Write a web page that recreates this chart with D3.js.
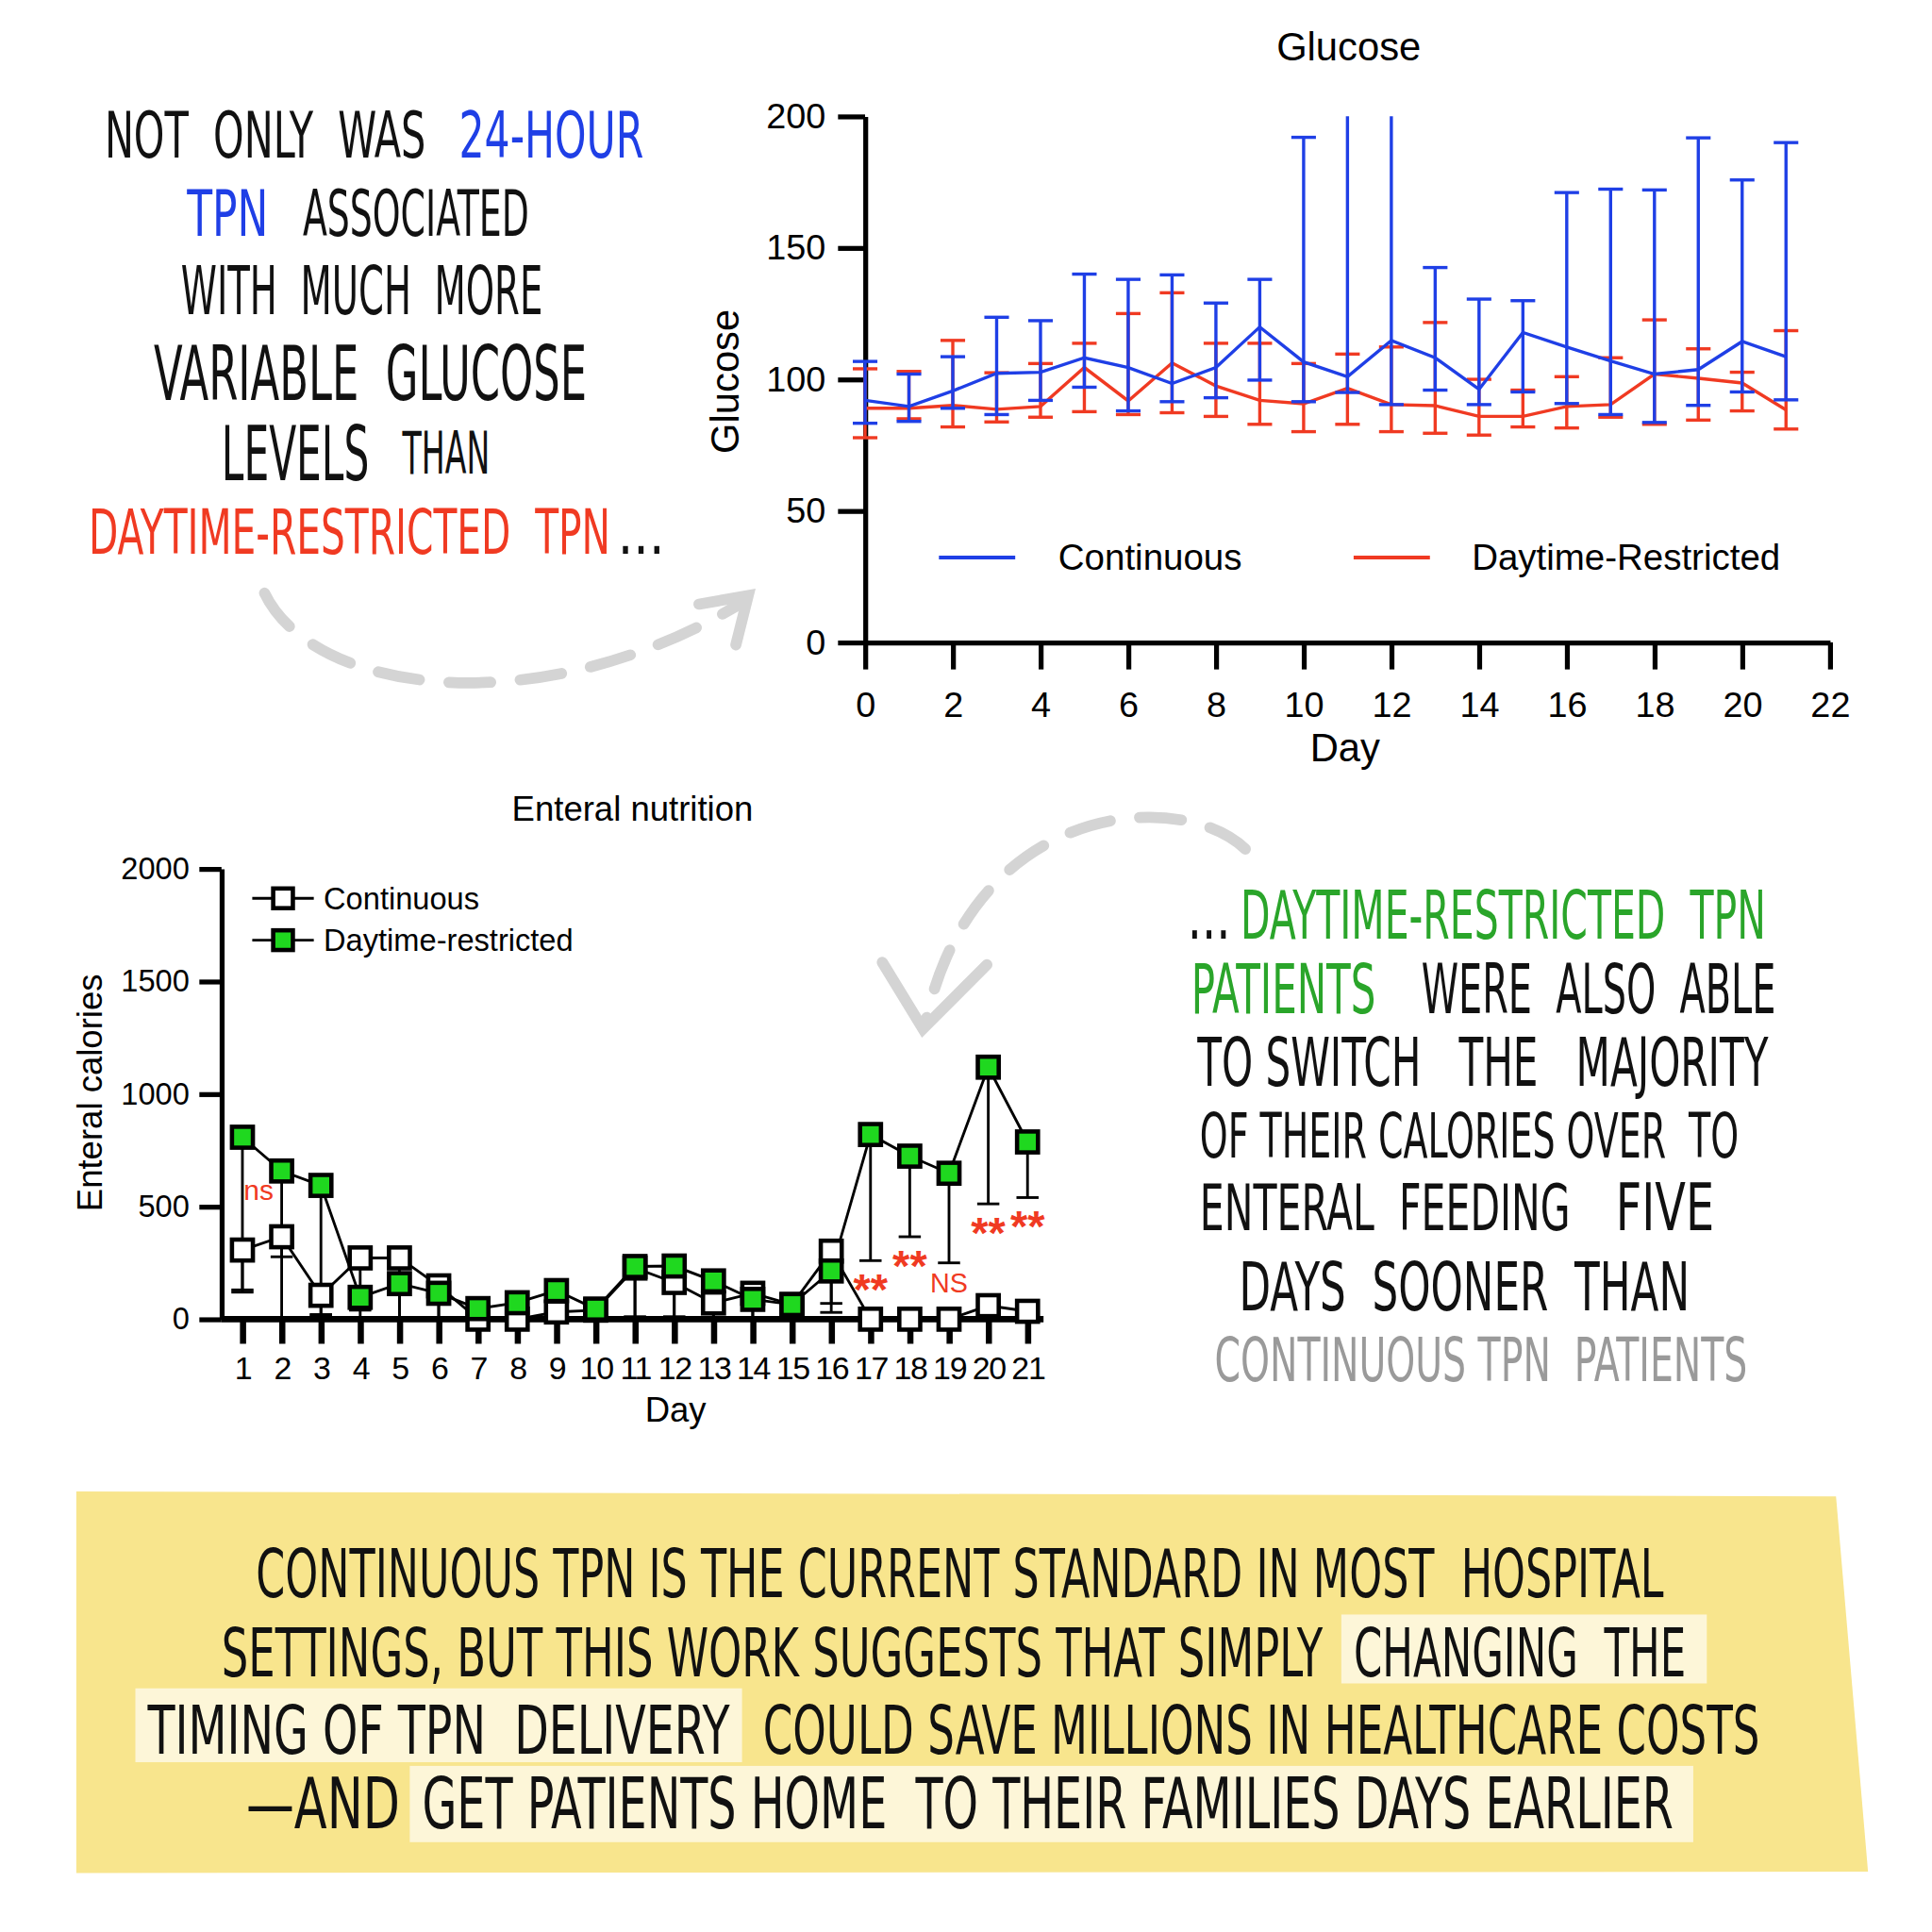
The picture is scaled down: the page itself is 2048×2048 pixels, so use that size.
<!DOCTYPE html>
<html>
<head>
<meta charset="utf-8">
<script src="https://cdn.jsdelivr.net/npm/d3@7"></script>
<style>
  body { margin: 0; background: #fff; }
  svg { display: block; }
</style>
</head>
<body>
<svg id="canvas" width="2048" height="2048" viewBox="0 0 1570 1570"></svg>
<script>
// ---- glucose data (days 0..21) ----
let gluDays = d3.range(0, 22);
let gluCont = [92, 89.7, 95.6, 102.3, 102.7, 108.2, 104.5, 98.4, 104.5, 119.9, 106.6, 101, 114.8, 108.2, 96.2, 117.8, 112.3, 107, 102, 103.7, 114.4, 108.6];
let gluContHi = [106.8, 102, 108.6, 123.6, 122.3, 140, 138, 139.7, 129, 138, 192, 230, 230, 142.5, 130.5, 129.9, 171, 172.3, 172, 191.8, 175.8, 190];
let gluContLo = [83.3, 84, 89, 86.6, 92, 97, 88, 91.5, 93, 99.7, 91.5, 95, 90.4, 95.9, 90.4, 95.2, 90.8, 86.6, 83.6, 90.1, 95.2, 92.2];
let gluDay = [89, 89, 90.1, 88.6, 89.7, 104.5, 91.8, 106.2, 97.5, 92, 90.7, 96.6, 90.4, 90, 85.9, 85.9, 89.7, 90.4, 102, 100.4, 98.6, 88.4];
let gluDayHi = [104, 103, 114.8, 102.5, 106, 113.7, 125, 132.9, 113.7, 113.7, 106, 109.6, 112.3, 121.6, 100, 95.9, 101, 108.2, 122.6, 111.6, 102.7, 118.5];
let gluDayLo = [77.8, 85, 81.9, 83.8, 85.6, 87.7, 86.6, 87.3, 85.9, 82.9, 80.1, 82.9, 80.1, 79.5, 78.8, 81.9, 81.5, 85.6, 82.9, 84.5, 88, 81.1];
let gluYTicks = [0, 50, 100, 150, 200];
let gluXTicks = d3.range(0, 23, 2);

// ---- enteral nutrition data (days 1..21) ----
let entDays = d3.range(1, 22);
let entCont = [307, 366, 106, 272, 272, 148, 0, 0, 32, 40, 227, 163, 72, 115, 65, 302, 0, 0, 0, 60, 35];
let entContLow = [130, 277, 20, 5, 0, 0, 0, 0, 0, 0, 10, 10, 0, 0, 0, 30, 0, 0, 0, 0, 0];
let entDayR = [808, 658, 594, 97, 158, 115, 47, 73, 127, 45, 234, 236, 170, 88, 65, 214, 820, 724, 648, 1119, 787];
let entDayLow = [120, 0, 20, 40, 0, 0, 0, 0, 0, 0, 10, 10, 0, 0, 0, 70, 260, 366, 250, 512, 540];
let entYTicks = [0, 500, 1000, 1500, 2000];
let sigDays = [17, 18, 19, 20, 21];
let sigLabels = ["**", "**", "NS", "**", "**"];

let blue = "#1f3fe6";
let red = "#f03a22";
let green = "#1fd81f";
let axisFont = "'Liberation Sans', Arial, Helvetica, sans-serif";
let handFont = "'Liberation Sans Narrow', 'DejaVu Sans Condensed', 'DejaVu Sans', sans-serif";

let svg = d3.select("#canvas");

// ---------- background shapes ----------
svg.append("polygon")
  .attr("points", "62,1212 1492,1216 1518,1521 62,1522")
  .attr("fill", "#f8e58d");

let highlights = [[1090, 1312, 297, 56], [110, 1372, 493, 60], [333, 1435, 1043, 62]];
svg.selectAll(".hl").data(highlights).enter().append("rect")
  .attr("x", (d) => d[0]).attr("y", (d) => d[1])
  .attr("width", (d) => d[2]).attr("height", (d) => d[3])
  .attr("fill", "#fdf6d8");

// dashed arrows
let arrows = svg.append("g")
  .attr("fill", "none").attr("stroke", "#d4d4d4")
  .attr("stroke-width", 9).attr("stroke-linecap", "round");
arrows.append("path").attr("d", "M215,482 C255,565 440,590 606,488").attr("stroke-dasharray", "34,24");
arrows.append("path").attr("d", "M568,491 L608,484 L598,524");
arrows.append("path").attr("d", "M1012,690 C960,640 790,650 752,832").attr("stroke-dasharray", "34,24");
arrows.append("path").attr("d", "M717,782 L750,836 L802,784");

// ---------- glucose chart ----------
let gx = d3.scaleLinear().domain([0, 22]).range([703, 1487]);
let gy = d3.scaleLinear().domain([0, 200]).range([522, 94.5]).clamp(true);

let gAxisY = svg.append("g")
  .attr("transform", "translate(703,0)")
  .call(d3.axisLeft(gy).tickValues(gluYTicks).tickSize(22).tickSizeOuter(0).tickPadding(10));
let gAxisX = svg.append("g")
  .attr("transform", "translate(0,522)")
  .call(d3.axisBottom(gx).tickValues(gluXTicks).tickSize(22).tickSizeOuter(0).tickPadding(18));
[gAxisY, gAxisX].forEach((a) => {
  a.selectAll("path, line").attr("stroke", "#000").attr("stroke-width", 4);
  a.selectAll("text").attr("font-family", axisFont).attr("font-size", 29).attr("fill", "#000");
});

let drawGluSeries = (vals, hi, lo, color) => {
  let g = svg.append("g").attr("stroke", color).attr("stroke-width", 2.6).attr("fill", "none");
  gluDays.forEach((d, i) => {
    g.append("line").attr("x1", gx(d)).attr("x2", gx(d)).attr("y1", gy(lo[i])).attr("y2", gy(hi[i]));
    if (hi[i] <= 200) {
      g.append("line").attr("x1", gx(d) - 10).attr("x2", gx(d) + 10).attr("y1", gy(hi[i])).attr("y2", gy(hi[i]));
    }
    g.append("line").attr("x1", gx(d) - 10).attr("x2", gx(d) + 10).attr("y1", gy(lo[i])).attr("y2", gy(lo[i]));
  });
  g.append("path")
    .attr("d", d3.line().x((d, i) => gx(gluDays[i])).y((d) => gy(d))(vals));
};
drawGluSeries(gluDay, gluDayHi, gluDayLo, red);
drawGluSeries(gluCont, gluContHi, gluContLo, blue);

svg.append("text").attr("x", 1096).attr("y", 49).attr("text-anchor", "middle")
  .attr("font-family", axisFont).attr("font-size", 32).text("Glucose");
svg.append("text").attr("x", 1093).attr("y", 619).attr("text-anchor", "middle")
  .attr("font-family", axisFont).attr("font-size", 32).text("Day");
svg.append("text").attr("transform", "translate(600,310) rotate(-90)").attr("text-anchor", "middle")
  .attr("font-family", axisFont).attr("font-size", 32).text("Glucose");

let gLegend = [["Continuous", blue, 763, 860], ["Daytime-Restricted", red, 1100, 1196]];
gLegend.forEach((l) => {
  svg.append("line").attr("x1", l[2]).attr("x2", l[2] + 62).attr("y1", 453).attr("y2", 453)
    .attr("stroke", l[1]).attr("stroke-width", 3);
  svg.append("text").attr("x", l[3]).attr("y", 463).attr("font-family", axisFont)
    .attr("font-size", 29.5).text(l[0]);
});

// ---------- enteral nutrition chart ----------
let ex = d3.scaleLinear().domain([1, 21]).range([197, 835]);
let ey = d3.scaleLinear().domain([0, 2000]).range([1072, 706]);

let eAxisY = svg.append("g")
  .attr("transform", "translate(180,0)")
  .call(d3.axisLeft(ey).tickValues(entYTicks).tickFormat(d3.format("d"))
    .tickSize(18).tickSizeOuter(0).tickPadding(8));
let eAxisX = svg.append("g")
  .attr("transform", "translate(0,1072)")
  .call(d3.axisBottom(ex).tickValues(entDays).tickSize(20).tickSizeOuter(0).tickPadding(10));
eAxisX.select(".domain").remove();
eAxisX.append("line").attr("x1", 180).attr("x2", 848).attr("y1", 0).attr("y2", 0);
eAxisY.selectAll("path, line").attr("stroke", "#000").attr("stroke-width", 4);
eAxisX.selectAll("line").attr("stroke", "#000").attr("stroke-width", 5);
[eAxisY, eAxisX].forEach((a) => {
  a.selectAll("text").attr("font-family", axisFont).attr("font-size", 25).attr("fill", "#000");
});
eAxisX.selectAll(".tick text").attr("font-size", 26).attr("letter-spacing", -1);

let drawEntErr = (vals, low) => {
  let g = svg.append("g").attr("stroke", "#000").attr("stroke-width", 2.2);
  entDays.forEach((d, i) => {
    if (vals[i] - low[i] < 1) return;
    g.append("line").attr("x1", ex(d)).attr("x2", ex(d)).attr("y1", ey(vals[i])).attr("y2", ey(low[i]));
    g.append("line").attr("x1", ex(d) - 9).attr("x2", ex(d) + 9).attr("y1", ey(low[i])).attr("y2", ey(low[i]));
  });
};
drawEntErr(entDayR, entDayLow);
drawEntErr(entCont, entContLow);

let entLine = d3.line().x((d, i) => ex(entDays[i])).y((d) => ey(d));
svg.append("path").attr("d", entLine(entCont)).attr("fill", "none").attr("stroke", "#000").attr("stroke-width", 2.2);
svg.append("path").attr("d", entLine(entDayR)).attr("fill", "none").attr("stroke", "#000").attr("stroke-width", 2.2);

let drawSquares = (vals, fill) => {
  svg.append("g").selectAll("rect").data(vals).enter().append("rect")
    .attr("x", (d, i) => ex(entDays[i]) - 8.5).attr("y", (d) => ey(d) - 8.5)
    .attr("width", 17).attr("height", 17)
    .attr("fill", fill).attr("stroke", "#000").attr("stroke-width", 3.5);
};
drawSquares(entCont, "#fff");
drawSquares(entDayR, green);

// significance marks, just under each lower error cap
sigDays.forEach((d, i) => {
  let isNS = sigLabels[i] === "NS";
  let capY = ey(entDayLow[d - 1]);
  svg.append("text").attr("x", ex(d)).attr("y", capY + (isNS ? 24 : 36))
    .attr("text-anchor", "middle").attr("fill", red)
    .attr("font-family", axisFont).attr("font-size", isNS ? 22 : 36)
    .attr("font-weight", isNS ? "normal" : "bold").text(sigLabels[i]);
});
svg.append("text").attr("x", ex(1) + 1).attr("y", ey(574) + 8).attr("fill", red)
  .attr("font-family", axisFont).attr("font-size", 23).text("ns");

svg.append("text").attr("x", 514).attr("y", 667).attr("text-anchor", "middle")
  .attr("font-family", axisFont).attr("font-size", 28).text("Enteral nutrition");
svg.append("text").attr("x", 549).attr("y", 1155).attr("text-anchor", "middle")
  .attr("font-family", axisFont).attr("font-size", 28).text("Day");
svg.append("text").attr("transform", "translate(83,888) rotate(-90)").attr("text-anchor", "middle")
  .attr("font-family", axisFont).attr("font-size", 28).text("Enteral calories");

let eLegend = [["Continuous", "#fff", 730], ["Daytime-restricted", green, 764]];
eLegend.forEach((l) => {
  svg.append("line").attr("x1", 205).attr("x2", 255).attr("y1", l[2]).attr("y2", l[2])
    .attr("stroke", "#000").attr("stroke-width", 2.2);
  svg.append("rect").attr("x", 222).attr("y", l[2] - 8).attr("width", 16).attr("height", 16)
    .attr("fill", l[1]).attr("stroke", "#000").attr("stroke-width", 3.5);
  svg.append("text").attr("x", 263).attr("y", l[2] + 9).attr("font-family", axisFont)
    .attr("font-size", 25).text(l[0]);
});

// ---------- hand-lettered annotations ----------
// [text, left, right, baseline, capHeight, color]
let notes = [
  ["NOT  ONLY  WAS", 85, 346, 128, 38, "#111"],
  ["24-HOUR", 373, 523, 128, 38, blue],
  ["TPN", 152, 218, 192, 38, blue],
  ["ASSOCIATED", 246, 430, 192, 38, "#111"],
  ["WITH  MUCH  MORE", 147, 441, 255, 40, "#111"],
  ["VARIABLE  GLUCOSE", 125, 477, 325, 45, "#111"],
  ["LEVELS", 180, 300, 390, 45, "#111"],
  ["THAN", 327, 398, 385, 35, "#111"],
  ["DAYTIME-RESTRICTED  TPN", 72, 496, 450, 37, red],
  ["...", 502, 540, 450, 37, "#111"],
  ["...", 965, 1000, 763, 40, "#111"],
  ["DAYTIME-RESTRICTED  TPN", 1008, 1435, 763, 40, "#2aa52a"],
  ["PATIENTS", 968, 1118, 823, 41, "#2aa52a"],
  ["WERE  ALSO  ABLE", 1155, 1443, 823, 41, "#111"],
  ["TO SWITCH   THE   MAJORITY", 973, 1437, 882, 40, "#111"],
  ["OF THEIR CALORIES OVER  TO", 975, 1413, 941, 37, "#111"],
  ["ENTERAL  FEEDING", 975, 1276, 1000, 38, "#111"],
  ["FIVE", 1313, 1393, 1000, 39, "#111"],
  ["DAYS  SOONER  THAN", 1007, 1373, 1065, 40, "#111"],
  ["CONTINUOUS TPN  PATIENTS", 987, 1420, 1122, 36, "#9a9a9a"],
  ["CONTINUOUS TPN IS THE CURRENT STANDARD IN MOST  HOSPITAL", 208, 1352, 1298, 40, "#111"],
  ["SETTINGS, BUT THIS WORK SUGGESTS THAT SIMPLY", 180, 1075, 1362, 40, "#111"],
  ["CHANGING  THE", 1100, 1370, 1362, 40, "#111"],
  ["TIMING OF TPN  DELIVERY", 120, 593, 1425, 40, "#111"],
  ["COULD SAVE MILLIONS IN HEALTHCARE COSTS", 620, 1430, 1425, 40, "#111"],
  ["\u2014AND", 200, 325, 1486, 42, "#111"],
  ["GET PATIENTS HOME  TO THEIR FAMILIES DAYS EARLIER", 343, 1360, 1486, 42, "#111"]
];
// render at natural size, then squeeze/stretch horizontally to the measured span
svg.append("g").selectAll("text").data(notes).enter().append("text")
  .attr("x", 0).attr("y", 0)
  .attr("xml:space", "preserve")
  .style("white-space", "pre")
  .attr("font-family", handFont).attr("font-size", (n) => n[4] / 0.73)
  .attr("fill", (n) => n[5])
  .text((n) => n[0])
  .attr("transform", function (n) {
    let w = this.getComputedTextLength();
    let sx = (n[2] - n[1]) / w;
    return "translate(" + n[1] + "," + n[3] + ") scale(" + sx + ",1)";
  });
</script>
</body>
</html>
